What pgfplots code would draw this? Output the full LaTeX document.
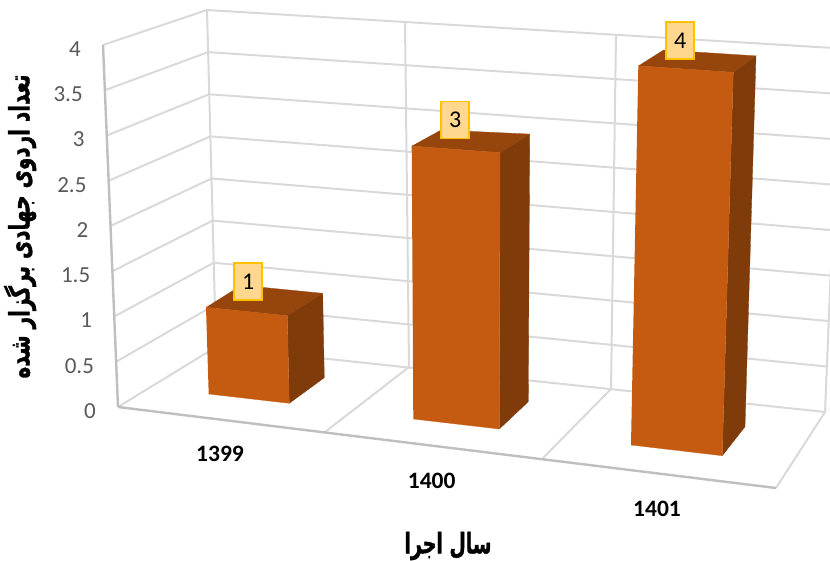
\documentclass[border=0pt]{standalone}
\usepackage{fontspec}
\usepackage{pgfplots}
\pgfplotsset{compat=1.18}
\setmainfont{Carlito}
\newfontfamily\arabicfont[Script=Arabic,BoldFeatures={FakeBold=1.5}]{DejaVu Sans}
\TeXXeTstate=1

\definecolor{barfront}{HTML}{C55A11}
\definecolor{barside}{HTML}{7F3C0A}
\definecolor{bartop}{HTML}{96450C}
\definecolor{gridc}{HTML}{D9D9D9}
\definecolor{axisc}{HTML}{BFBFBF}
\definecolor{tickc}{HTML}{595959}
\definecolor{boxfill}{HTML}{FFD78F}
\definecolor{boxline}{HTML}{FFC000}

% every corner: base pixel (bx,by), pixel shift per unit (ux,uy), value v
\pgfplotsset{
  table/corner/.style={
    row sep=\\,
    x expr=\thisrow{bx}+\thisrow{v}*\thisrow{ux},
    y expr=\thisrow{by}+\thisrow{v}*\thisrow{uy},
  },
  face/.style={fill=#1,draw=#1,line width=0.3pt,forget plot},
  gl/.style={gridc,line width=2pt,forget plot},
  al/.style={axisc,line width=2.4pt,forget plot},
  txt/.style={draw=none,mark=none,forget plot,point meta=explicit symbolic,nodes near coords},
}

\begin{document}
\begin{tikzpicture}
\path[use as bounding box] (0,0) rectangle (830pt,561pt);
\begin{axis}[
    at={(0,0)},anchor=south west,
    scale only axis,width=830pt,height=561pt,
    xmin=0,xmax=830,ymin=0,ymax=561,y dir=reverse,
    hide axis,clip=true,
]
% left wall and back wall grid
\pgfplotsinvokeforeach{0,0.5,...,4}{
  \addplot[gl] table[corner,row sep=\\] {bx by ux uy v\\ 118 407 -3.75 -90.5 #1\\ 216 347 -2.25 -84.25 #1\\ 825 412 3.75 -90.9 #1\\};
}
% back wall verticals
\addplot[gl] table[corner] {bx by ux uy v\\ 216 347 -2.25 -84.25 0\\ 216 347 -2.25 -84.25 4\\};
\addplot[gl] table[corner] {bx by ux uy v\\ 409 367 -1 -86 0\\ 409 367 -1 -86 4\\};
\addplot[gl] table[corner] {bx by ux uy v\\ 611 389 1.25 -88.75 0\\ 611 389 1.25 -88.75 4\\};
\addplot[gl] table[corner] {bx by ux uy v\\ 825 412 3.75 -90.9 0\\ 825 412 3.75 -90.9 4\\};
% floor
\addplot[gl] coordinates {(325,432)(409,367)};
\addplot[gl] coordinates {(543,458)(611,389)};
\addplot[gl] coordinates {(776,488)(825,412)};
\addplot[al] coordinates {(118,407)(776,488)};
\addplot[al] table[corner] {bx by ux uy v\\ 118 407 -3.75 -90.5 0\\ 118 407 -3.75 -90.5 4\\};

% bar 1399, value 1
\addplot[face=barside] table[corner] {bx by ux uy v\\
  289.3 403.3 -2 -87.6 0\\ 324.3 377.7 -1.6 -84.4 0\\ 324.3 377.7 -1.6 -84.4 1\\ 289.3 403.3 -2 -87.6 1\\};
\addplot[face=bartop] table[corner] {bx by ux uy v\\
  208.7 394 -2.7 -86.7 1\\ 289.3 403.3 -2 -87.6 1\\ 324.3 377.7 -1.6 -84.4 1\\ 242.6 369.6 -1.6 -84.3 1\\};
\addplot[face=barfront] table[corner] {bx by ux uy v\\
  208.7 394 -2.7 -86.7 0\\ 289.3 403.3 -2 -87.6 0\\ 289.3 403.3 -2 -87.6 1\\ 208.7 394 -2.7 -86.7 1\\};
% bar 1400, value 3
\addplot[face=barside] table[corner] {bx by ux uy v\\
  499.3 429 0.23 -92.1 0\\ 528.3 401.7 0.47 -89.2 0\\ 528.3 401.7 0.47 -89.2 3\\ 499.3 429 0.23 -92.1 3\\};
\addplot[face=bartop] table[corner] {bx by ux uy v\\
  413.3 419 -0.53 -91 3\\ 499.3 429 0.23 -92.1 3\\ 528.3 401.7 0.47 -89.2 3\\ 440.7 394 0 -88 3\\};
\addplot[face=barfront] table[corner] {bx by ux uy v\\
  413.3 419 -0.53 -91 0\\ 499.3 429 0.23 -92.1 0\\ 499.3 429 0.23 -92.1 3\\ 413.3 419 -0.53 -91 3\\};
% bar 1401, value 4
\addplot[face=barside] table[corner] {bx by ux uy v\\
  722.3 455.7 2.75 -95.85 0\\ 745 426.7 2.75 -92.7 0\\ 745 426.7 2.75 -92.7 4\\ 722.3 455.7 2.75 -95.85 4\\};
\addplot[face=bartop] table[corner] {bx by ux uy v\\
  631 445 1.83 -94.8 4\\ 722.3 455.7 2.75 -95.85 4\\ 745 426.7 2.75 -92.7 4\\ 653.3 418 2.5 -92 4\\};
\addplot[face=barfront] table[corner] {bx by ux uy v\\
  631 445 1.83 -94.8 0\\ 722.3 455.7 2.75 -95.85 0\\ 722.3 455.7 2.75 -95.85 4\\ 631 445 1.83 -94.8 4\\};

% value tick labels
\addplot[txt,nodes near coords style={anchor=east,inner sep=0pt,text=tickc,font=\fontsize{23}{24}\selectfont}]
  table[row sep=\\,x expr=96-3.75*\thisrow{v},y expr=411-90.5*\thisrow{v},meta=v] {
  v\\ 0\\ 0.5\\ 1\\ 1.5\\ 2\\ 2.5\\ 3\\ 3.5\\ 4\\};
% year labels
\addplot[txt,nodes near coords style={anchor=center,inner sep=0pt,text=black,font=\fontsize{23.5}{24}\selectfont\bfseries}]
  table[row sep=\\,meta=year] {
  x y year\\ 220 454 1399\\ 431.7 480.5 1400\\ 657 508.7 1401\\};
% data labels
\addplot[txt,nodes near coords style={anchor=center,inner sep=0pt,draw=boxline,line width=1.8pt,
    fill=boxfill,text=black,minimum width=28pt,minimum height=37pt,font=\fontsize{24}{24}\selectfont}]
  table[row sep=\\,meta=v] {
  x y v\\ 248.3 281.5 1\\ 455.3 120 3\\ 680.3 40.5 4\\};

\node[inner sep=0pt,font=\arabicfont\bfseries\fontsize{21}{24}\selectfont] at (axis cs:448,546) {\scalebox{0.9}[1.35]{\beginR سال اجرا\endR}};
\node[inner sep=0pt,rotate=90,font=\arabicfont\bfseries\fontsize{20}{24}\selectfont] at (axis cs:20,226.5) {\scalebox{1}[1.4]{\beginR تعداد اردوی جهادی برگزار شده\endR}};
\end{axis}
\end{tikzpicture}
\end{document}
